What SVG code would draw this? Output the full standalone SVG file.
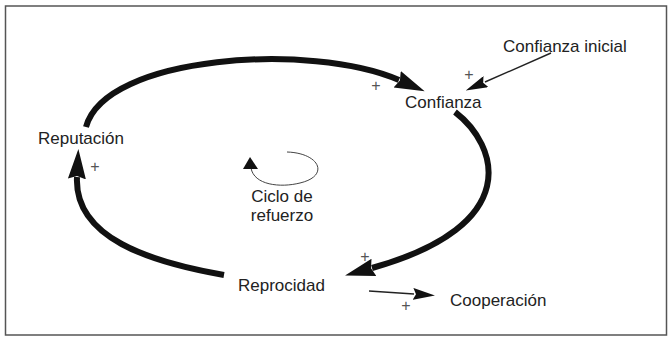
<svg xmlns="http://www.w3.org/2000/svg" width="671" height="338" viewBox="0 0 671 338">
<style>
.lbl{font-family:"Liberation Sans",Arial,Helvetica,sans-serif;font-size:17px;fill:#222}
.pl{font-family:"Liberation Sans",Arial,sans-serif;font-size:16px;fill:#555;text-anchor:middle}
.thick{fill:none;stroke:#111;stroke-width:6}
.thin{fill:none;stroke:#222;stroke-width:1.4}
.loop{fill:none;stroke:#444;stroke-width:1}
</style>
<defs>
<marker id="bighead" markerUnits="userSpaceOnUse" viewBox="0 -10 30 20" markerWidth="30" markerHeight="20" refX="2" refY="0" orient="auto">
<path d="M0,-9 L30,0 L0,9 L3,0 Z" fill="#111"/>
</marker>
<marker id="smallhead" markerUnits="userSpaceOnUse" viewBox="0 -6 22 12" markerWidth="22" markerHeight="12" refX="1" refY="0" orient="auto">
<path d="M0,-6 L22,0 L0,6 L3,0 Z" fill="#111"/>
</marker>
</defs>
<rect x="5.5" y="6" width="661" height="329" fill="#fff" stroke="#555" stroke-width="1.5"/>
<g id="connectors">
<path id="rep-conf" class="thick" d="M86 127 C105 55, 312 42, 399 80" marker-end="url(#bighead)"/>
<path id="conf-reci" class="thick" d="M455 112 C498 145, 525 225, 372 268" marker-end="url(#bighead)"/>
<path id="reci-rep" class="thick" d="M224 275 C150 262, 74 238, 77 177" marker-end="url(#bighead)"/>
<path id="ini-conf" class="thin" d="M551 53 L485 82" marker-end="url(#smallhead)"/>
<path id="reci-coop" class="thin" d="M369 291 L414 294" marker-end="url(#smallhead)"/>
<text class="pl" x="376" y="91">+</text>
<text class="pl" x="469" y="80">+</text>
<text class="pl" x="95" y="172">+</text>
<text class="pl" x="365" y="262">+</text>
<text class="pl" x="406" y="311">+</text>
</g>
<g id="ciclo">
<path class="loop" d="M287 152 C320 153, 330 176, 300 183 C280 188, 254 185, 251 168"/>
<polygon points="250,157 243,169 258,169" fill="#111"/>
<text class="lbl" x="282" y="202" text-anchor="middle">Ciclo de</text>
<text class="lbl" x="282" y="221" text-anchor="middle">refuerzo</text>
</g>
<g id="confianza-inicial"><text class="lbl" x="503" y="52">Confianza inicial</text></g>
<g id="confianza"><text class="lbl" x="405" y="108">Confianza</text></g>
<g id="reputacion"><text class="lbl" x="38" y="144">Reputación</text></g>
<g id="reprocidad"><text class="lbl" x="238" y="291">Reprocidad</text></g>
<g id="cooperacion"><text class="lbl" x="450" y="306">Cooperación</text></g>
</svg>
